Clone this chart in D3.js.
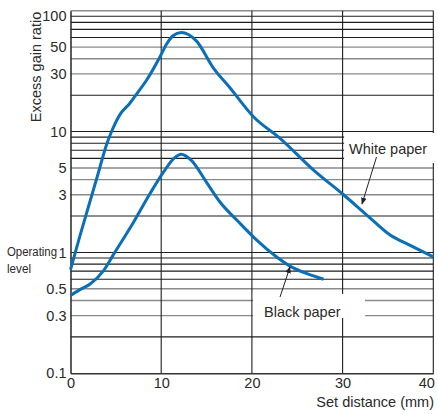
<!DOCTYPE html>
<html>
<head>
<meta charset="utf-8">
<script src="https://cdn.jsdelivr.net/npm/d3@7"></script>
<style>
  body { margin: 0; background: #fff; }
  text { font-family: "Liberation Sans", Arial, sans-serif; fill: #2a2a2a; }
</style>
</head>
<body>
<div id="chart"></div>
<script>
// ticks and grid
var xTicks = [0, 10, 20, 30, 40];
var yTicks = [0.1, 0.3, 0.5, 1, 3, 5, 10, 30, 50, 100];
var gridDark = [0.2, 0.6, 0.7, 0.8, 0.9, 1, 2, 6, 7, 8, 9, 10, 20, 60, 70, 80, 90];
var gridGray = [0.3, 0.4, 0.5, 3, 4, 5, 30, 40, 50, 100];

// white paper curve
var whiteX = [0, 1, 2, 3, 4, 4.6, 5.5, 6.5, 7.3, 8.4, 9.9, 10.6, 11.3, 12.2, 13, 13.9, 15.7, 17.6, 20.2, 23.1, 26.8, 30.1, 32.8, 35.2, 37.4, 40];
var whiteY = [0.72, 1.34, 2.42, 4.37, 7.9, 10.3, 14, 17, 20.5, 26.7, 42, 53, 62, 66, 63.5, 56, 34, 22.9, 13.2, 8.8, 4.8, 3, 2, 1.4, 1.15, 0.92];

// black paper curve
var blackX = [0, 1, 2.2, 3.6, 4.7, 6.9, 8.8, 10.4, 11.4, 12.2, 13.3, 15, 16.5, 18.5, 20.5, 22.7, 24.2, 26, 27.9];
var blackY = [0.44, 0.49, 0.55, 0.7, 0.95, 1.75, 3.1, 4.8, 6, 6.5, 5.8, 3.8, 2.6, 1.8, 1.27, 0.92, 0.77, 0.67, 0.6];

var W = 438, H = 414;
var pLeft = 70.5, pRight = 433.3, pTop = 10.7, pBottom = 373.3;

var svg = d3.select("#chart").append("svg")
    .attr("width", W)
    .attr("height", H);

var x = d3.scaleLinear().domain([0, 40]).range([pLeft, pRight]);
var y = d3.scaleLog().domain([0.1, 100]).range([pBottom, pTop]);

// horizontal grid
svg.selectAll(".gd").data(gridDark).enter().append("line")
    .attr("x1", pLeft).attr("x2", pRight)
    .attr("y1", function (d) { return y(d); })
    .attr("y2", function (d) { return y(d); })
    .attr("stroke", "#1e1e1e").attr("stroke-width", 1.1);
svg.selectAll(".gg").data(gridGray).enter().append("line")
    .attr("x1", pLeft).attr("x2", pRight)
    .attr("y1", function (d) { return y(d); })
    .attr("y2", function (d) { return y(d); })
    .attr("stroke", "#8a8a8a").attr("stroke-width", 1.4);

// vertical grid
svg.selectAll(".vg").data(xTicks.slice(1)).enter().append("line")
    .attr("x1", function (d) { return x(d); })
    .attr("x2", function (d) { return x(d); })
    .attr("y1", pTop).attr("y2", pBottom)
    .attr("stroke", "#1e1e1e").attr("stroke-width", 1.1);

// label boxes hide the grid
svg.append("rect").attr("x", x(30) + 1.5).attr("y", 133).attr("width", 100).attr("height", 30).attr("fill", "#fff");
svg.append("rect").attr("x", x(20) + 1).attr("y", 294).attr("width", 112).attr("height", 24).attr("fill", "#fff");

// axes
var yAxis = svg.append("g")
    .attr("transform", "translate(" + pLeft + ",0)")
    .call(d3.axisLeft(y).tickValues(yTicks).tickSize(0).tickPadding(4)
        .tickFormat(function (d) { return String(d); }));
yAxis.select(".domain").attr("stroke", "#333").attr("stroke-width", 1.6);
yAxis.selectAll("text")
    .attr("font-size", 14.5)
    .attr("font-family", "Liberation Sans, Arial, sans-serif")
    .attr("fill", "#2a2a2a")
    .attr("dy", function (d) { return d === 100 ? "0.65em" : "0.32em"; });

var xAxis = svg.append("g")
    .attr("transform", "translate(0," + pBottom + ")")
    .call(d3.axisBottom(x).tickValues(xTicks).tickSize(0).tickPadding(4));
xAxis.select(".domain").attr("stroke", "#333").attr("stroke-width", 1.6);
xAxis.selectAll("text")
    .attr("font-size", 14.5)
    .attr("font-family", "Liberation Sans, Arial, sans-serif")
    .attr("fill", "#2a2a2a")
    .attr("dx", function (d) { return d === 40 ? -7 : 0; });

// curves
var line = d3.line()
    .x(function (d) { return x(d[0]); })
    .y(function (d) { return y(d[1]); })
    .curve(d3.curveMonotoneX);

svg.append("path")
    .datum(d3.zip(whiteX, whiteY))
    .attr("d", line)
    .attr("fill", "none").attr("stroke", "#0b6fb8").attr("stroke-width", 3);
svg.append("path")
    .datum(d3.zip(blackX, blackY))
    .attr("d", line)
    .attr("fill", "none").attr("stroke", "#0b6fb8").attr("stroke-width", 3);

// arrows
svg.append("defs").append("marker")
    .attr("id", "ah").attr("viewBox", "0 0 10 10")
    .attr("refX", 9).attr("refY", 5)
    .attr("markerWidth", 7).attr("markerHeight", 7)
    .attr("orient", "auto")
    .append("path").attr("d", "M0,1 L10,5 L0,9 Z").attr("fill", "#222");

svg.append("line").attr("x1", 376.5).attr("y1", 157).attr("x2", 362).attr("y2", 204)
    .attr("stroke", "#222").attr("stroke-width", 1).attr("marker-end", "url(#ah)");
svg.append("line").attr("x1", 280).attr("y1", 297).attr("x2", 290).attr("y2", 267)
    .attr("stroke", "#222").attr("stroke-width", 1).attr("marker-end", "url(#ah)");

// text labels
svg.append("text").attr("x", 349).attr("y", 154).attr("font-size", 14.5).text("White paper");
svg.append("text").attr("x", 264).attr("y", 317).attr("font-size", 14.5).text("Black paper");

svg.append("text")
    .attr("transform", "translate(41,67) rotate(-90)")
    .attr("text-anchor", "middle")
    .attr("font-size", 14.5)
    .text("Excess gain ratio");

svg.append("text").attr("x", 434).attr("y", 407).attr("text-anchor", "end")
    .attr("font-size", 14.5).text("Set distance (mm)");

svg.append("text").attr("x", 7).attr("y", 256).attr("font-size", 12)
    .attr("textLength", 50).attr("lengthAdjust", "spacingAndGlyphs").text("Operating");
svg.append("text").attr("x", 7).attr("y", 273).attr("font-size", 12)
    .attr("textLength", 24).attr("lengthAdjust", "spacingAndGlyphs").text("level");
</script>
</body>
</html>
